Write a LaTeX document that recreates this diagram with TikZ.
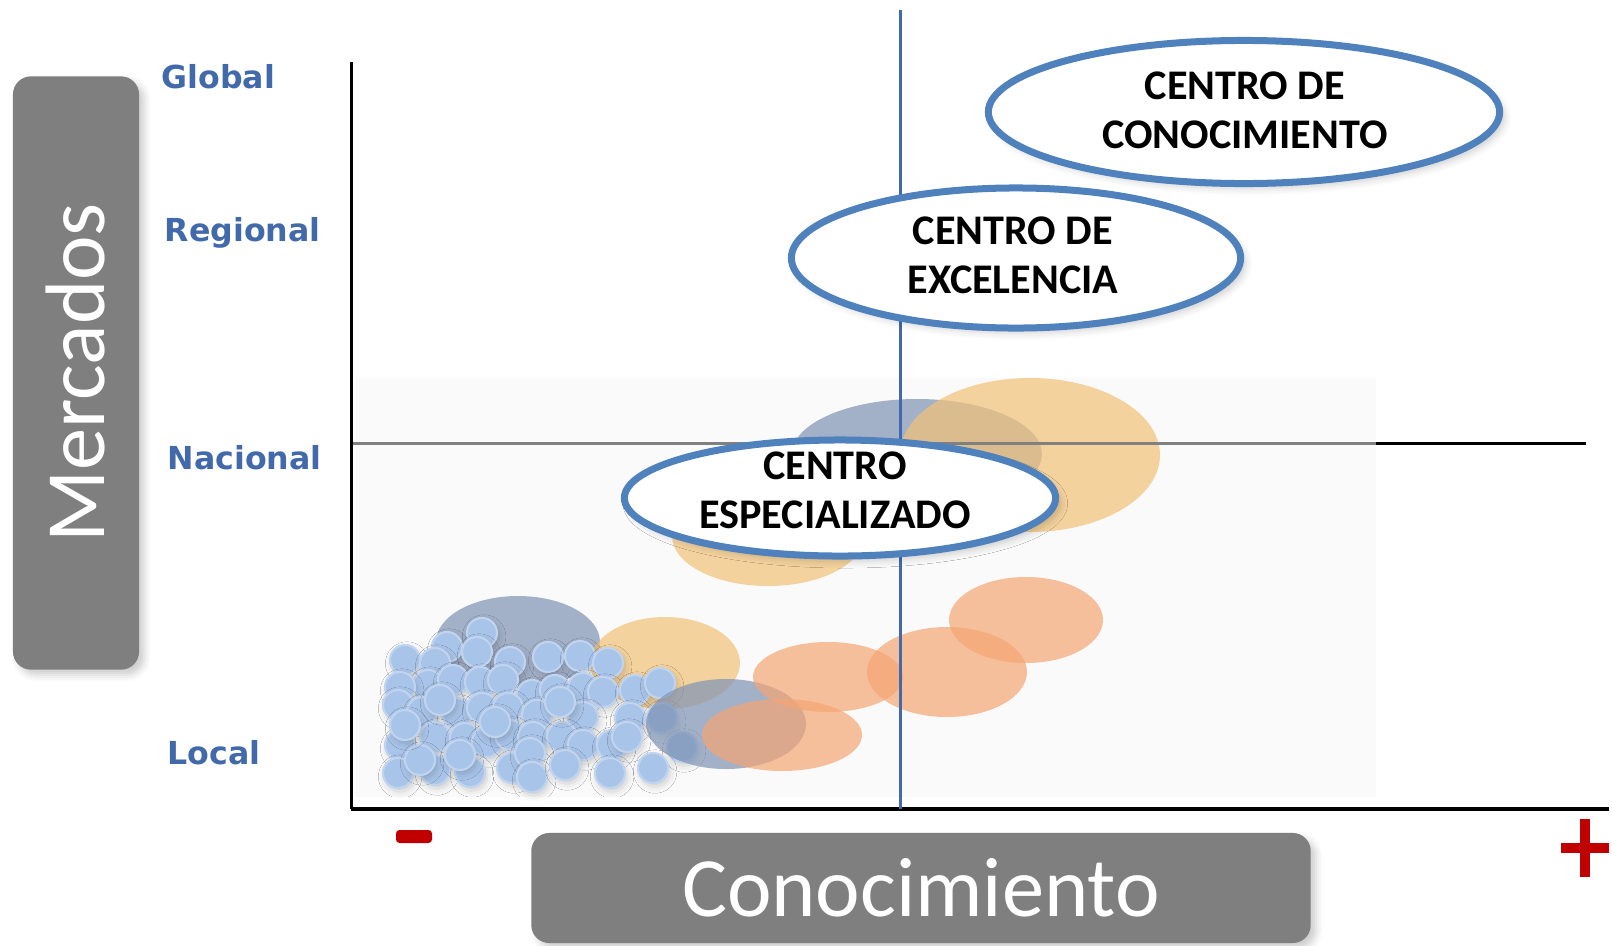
\documentclass[tikz,border=0pt]{standalone}
\usepackage{fontspec}
\setmainfont{Carlito}
\newfontfamily\nivelfont{DejaVu Sans}
\usetikzlibrary{shapes.geometric,shadows.blur}
\definecolor{azul}{RGB}{79,129,189}
\definecolor{azuloscuro}{RGB}{66,106,170}
\definecolor{gris}{RGB}{127,127,127}
\definecolor{rojo}{RGB}{192,0,0}
\definecolor{amarillo}{RGB}{242,194,118}
\definecolor{salmon}{RGB}{245,166,116}
\definecolor{grisazul}{RGB}{126,146,180}
\definecolor{bolita}{RGB}{168,196,232}
\definecolor{bordebolita}{RGB}{192,212,240}

\begin{document}
\begin{tikzpicture}[x=0.01cm, y=-0.01cm,
        centro/.style={ellipse, draw=azul, line width=0.07cm, fill=white, inner sep=0pt,
            blur shadow={shadow xshift=1.5pt, shadow yshift=-1.5pt, shadow opacity=18}},
        rotulo/.style={align=center, inner sep=0pt, font=\bfseries\fontsize{12}{14}\selectfont},
        nivel/.style={anchor=base west, inner sep=0pt, text=azuloscuro,
            font=\nivelfont\bfseries\fontsize{9}{11}\selectfont},
        caja/.style={fill=gris, rounded corners=0.18cm, inner sep=0pt, text=white,
            font=\fontsize{24}{28}\selectfont,
            blur shadow={shadow xshift=1.5pt, shadow yshift=-1.5pt, shadow opacity=20}},
        mancha/.style={fill opacity=0.7},
        bola/.style={fill=bolita, draw=bordebolita, line width=0.6pt,
            blur shadow={shadow xshift=0.6pt, shadow yshift=-1pt, shadow opacity=18, shadow blur steps=3}}]
    \useasboundingbox (0,0) rectangle (1612,945);

    % ejes
    \coordinate (origen) at (351,809);
    \coordinate (ytop) at (351,62);
    \coordinate (xfin) at (1609,809);
    \coordinate (nacI) at (353,443);
    \coordinate (nacM) at (1376,443);
    \coordinate (nacD) at (1586,443);
    \coordinate (vtop) at (900,10);
    \coordinate (vbot) at (900,809);

    % fondo de la imagen
    \fill[black!2] (355,378) rectangle (1376,797);

    % manchas
    \fill[grisazul, mancha] (518,642) ellipse [x radius=82, y radius=46];
    \fill[amarillo, mancha] (665,663) ellipse [x radius=75, y radius=46];
    \foreach \x/\y in {482/633, 447/647, 477/652, 510/662, 548/657, 580/656, 608/663,
            405/660, 435/663, 428/685, 453/680, 480/682, 503/680, 532/695, 555/690,
            583/688, 603/692, 635/690, 660/683, 400/687, 398/705, 422/712, 457/713,
            482/708, 508/708, 537/715, 583/717, 630/718, 662/718, 400/745, 435/737,
            465/738, 487/742, 510/735, 533/737, 562/737, 583/745, 612/745, 627/737,
            682/747, 398/773, 435/770, 470/772, 512/768, 530/753, 532/777, 565/765,
            610/773, 653/768, 440/700, 460/755, 495/722, 560/702, 420/760, 405/725}
        \path[bola] (\x,\y) circle [radius=15];
    \fill[grisazul, mancha] (726,724) ellipse [x radius=80, y radius=45];
    \fill[salmon, mancha] (828,677) ellipse [x radius=75, y radius=35];
    \fill[salmon, mancha] (782,735) ellipse [x radius=80, y radius=36];
    \fill[salmon, mancha] (947,672) ellipse [x radius=80, y radius=45];
    \fill[salmon, mancha] (1026,620) ellipse [x radius=77, y radius=43];
    \fill[grisazul, mancha] (917,454) ellipse [x radius=125, y radius=55];
    \fill[amarillo, mancha] (1030,455) ellipse [x radius=130, y radius=77];
    \fill[amarillo, mancha] (768,536) ellipse [x radius=96, y radius=50];

    \draw[line width=0.03cm, black!50] (nacI) -- (nacM);
    \draw[line width=0.03cm] (nacM) -- (nacD);
    \draw[line width=0.03cm] (ytop) -- (origen);
    \draw[line width=0.04cm] (origen) -- (xfin);
    \draw[line width=0.03cm, azuloscuro] (vtop) -- (vbot);

    % niveles de mercado
    \node[nivel] (global) at (161,88) {Global};
    \node[nivel] (regional) at (164,241) {Regional};
    \node[nivel] (nacional) at (167,469) {Nacional};
    \node[nivel] (local) at (167,764) {Local};

    % cajas de los ejes
    \node[caja, rotate=90, minimum width=5.93cm, minimum height=1.26cm] (mercados) at (76,373) {Mercados};
    \node[caja, minimum width=7.79cm, minimum height=1.10cm] (conoc) at (921,888) {Conocimiento};

    % signos
    \fill[rojo, rounded corners=1pt] (396,830) rectangle (432,843);
    \fill[rojo] (1580,819) rectangle (1590,877);
    \fill[rojo] (1561,843) rectangle (1609,853);

    % centros
    \node[centro, minimum width=5.11cm, minimum height=1.43cm] (ccon) at (1244,112) {};
    \node[rotulo] (tcon) at (1245,110) {CENTRO DE\\CONOCIMIENTO};
    \node[centro, minimum width=4.49cm, minimum height=1.40cm] (cexc) at (1016,258) {};
    \node[rotulo] (texc) at (1013,255) {CENTRO DE\\EXCELENCIA};
    \node[centro, minimum width=4.31cm, minimum height=1.16cm] (cesp) at (840,498) {};
    \node[rotulo] (tesp) at (835,490) {CENTRO\\ESPECIALIZADO};
\end{tikzpicture}
\end{document}
